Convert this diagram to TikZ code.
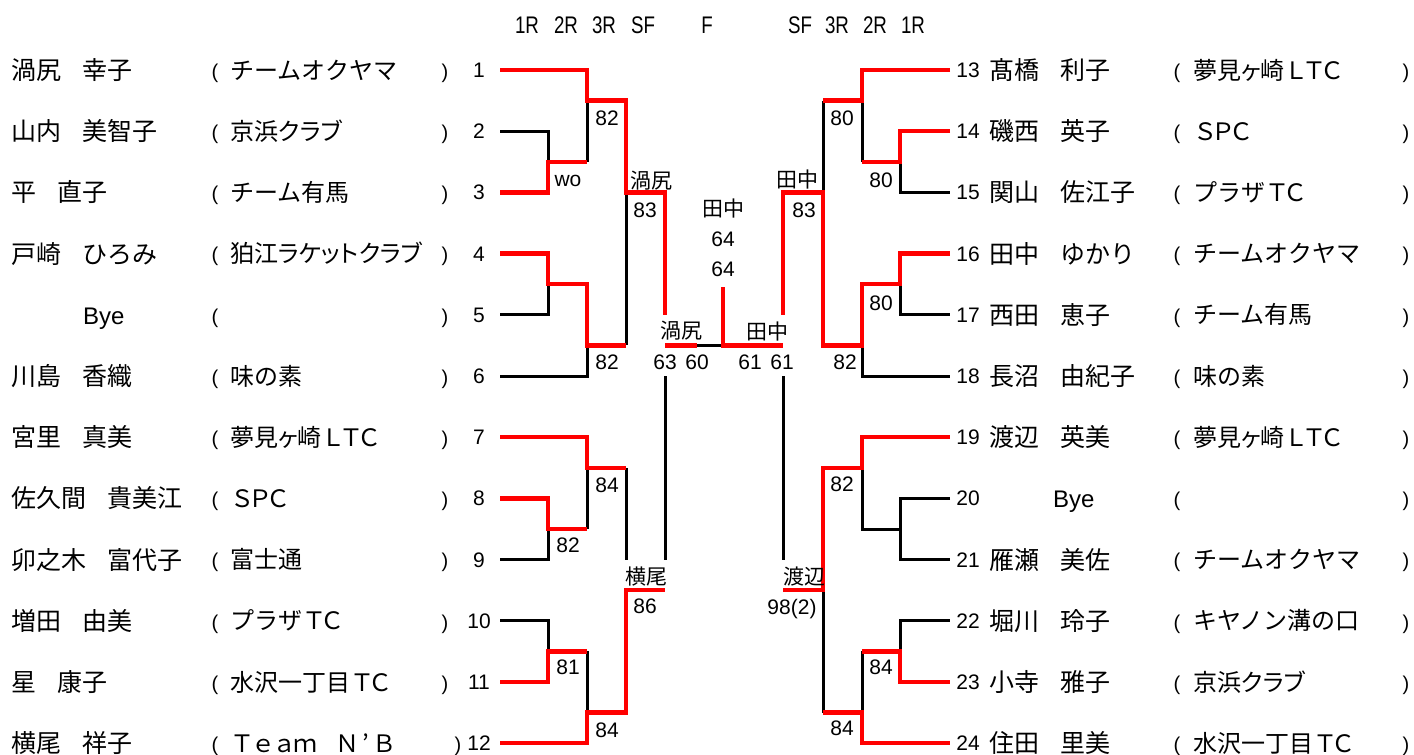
\documentclass[tikz,border=0pt]{standalone}
\usepackage{fontspec}
\usepackage{graphicx}
\setmainfont{Liberation Sans}
\newfontfamily\jp{Noto Sans CJK JP}
\newfontfamily\jpp[RawFeature=+palt]{Noto Sans CJK JP}
\newfontfamily\jpl[LetterSpace=-25]{Noto Sans CJK JP}
\newfontfamily\jpm[LetterSpace=-12]{Noto Sans CJK JP}
\newcommand\sn[2]{#1\hspace{21pt}#2}
\newcommand\lrow[5]{%
  \node[nm] (ln#1) at (11,#2) {#3};
  \node[par] (lo#1) at (215,#2+3) {(};
  \node[tm] (lt#1) at (230,#2) {#4};
  \node[par] (lc#1) at (#5,#2+3) {)};
  \node[num] (lnum#1) at (479,#2) {#1};
}
\newcommand\rrow[4]{%
  \node[num] (rnum#1) at (968,#2) {#1};
  \node[nm] (rn#1) at (989,#2) {#3};
  \node[par] (ro#1) at (1177,#2+3) {(};
  \node[tm] (rt#1) at (1193,#2) {#4};
  \node[par] (rc#1) at (1406,#2+3) {)};
}
\tikzset{
  win/.style={draw=red,line width=4.5pt,line join=miter},
  lose/.style={draw=black,line width=3pt,line join=miter},
  nm/.style={anchor=west,inner sep=0pt,font=\jp\fontsize{25}{25}\selectfont,text height=20.8pt,text depth=1.8pt},
  tm/.style={anchor=west,inner sep=0pt,font=\jp\fontsize{24}{24}\selectfont,text height=20pt,text depth=1.7pt},
  par/.style={inner sep=0pt,font=\fontsize{20}{20}\selectfont,text height=14.6pt,text depth=4.2pt},
  num/.style={inner sep=0pt,font=\fontsize{21}{21}\selectfont,text height=15pt,text depth=0pt},
  sc/.style={inner sep=0pt,font=\fontsize{21}{21}\selectfont,text height=15pt,text depth=0pt},
  lb/.style={inner sep=0pt,font=\jp\fontsize{21}{21}\selectfont,text height=17.4pt,text depth=1.5pt},
  hd/.style={inner sep=0pt,font=\fontsize{24}{24}\selectfont,text height=17.2pt,text depth=0pt},
}
\begin{document}
\begin{tikzpicture}[x=1pt,y=-1pt]
\useasboundingbox (0,0) rectangle (1414,755);
\fill[white] (0,0) rectangle (1414,755);

% header
\node[hd] (h1) at (527,25) {\scalebox{0.78}[1]{1R}};
\node[hd] (h2) at (566,25) {\scalebox{0.78}[1]{2R}};
\node[hd] (h3) at (604,25) {\scalebox{0.78}[1]{3R}};
\node[hd] (h4) at (643,25) {\scalebox{0.78}[1]{SF}};
\node[hd] (h5) at (707,25) {\scalebox{0.78}[1]{F}};
\node[hd] (h6) at (800,25) {\scalebox{0.78}[1]{SF}};
\node[hd] (h7) at (837,25) {\scalebox{0.78}[1]{3R}};
\node[hd] (h8) at (875,25) {\scalebox{0.78}[1]{2R}};
\node[hd] (h9) at (913,25) {\scalebox{0.78}[1]{1R}};

% players left
\lrow{1}{70}{\sn{渦尻}{幸子}}{チームオクヤマ}{445}
\lrow{2}{131.2}{\sn{山内}{美智子}}{京浜{\jpp クラブ}}{445}
\lrow{3}{192.4}{\sn{平}{直子}}{チーム有馬}{445}
\lrow{4}{253.6}{\sn{戸崎}{ひろみ}}{狛江{\jpp ラケットクラブ}}{445}
\lrow{5}{314.8}{\hspace{72pt}{\rmfamily\fontsize{24}{24}\selectfont Bye}}{}{445}
\lrow{6}{376}{\sn{川島}{香織}}{味の素}{445}
\lrow{7}{437.2}{\sn{宮里}{真美}}{夢見{\jpp ヶ}崎{\jpl ＬＴＣ}}{445}
\lrow{8}{498.4}{\sn{佐久間}{貴美江}}{{\jpl ＳＰＣ}}{445}
\lrow{9}{559.6}{\sn{卯之木}{富代子}}{富士通}{445}
\lrow{10}{620.8}{\sn{増田}{由美}}{プラザ{\jpl ＴＣ}}{445}
\lrow{11}{682}{\sn{星}{康子}}{水沢一丁目{\jpl ＴＣ}}{445}
\lrow{12}{743.2}{\sn{横尾}{祥子}}{{\jpm Ｔｅａｍ　Ｎ\hspace{3pt}’\hspace{3pt}Ｂ}}{458}

% players right
\rrow{13}{70}{\sn{髙橋}{利子}}{夢見{\jpp ヶ}崎{\jpl ＬＴＣ}}
\rrow{14}{131.2}{\sn{磯西}{英子}}{{\jpl ＳＰＣ}}
\rrow{15}{192.4}{\sn{関山}{佐江子}}{プラザ{\jpl ＴＣ}}
\rrow{16}{253.6}{\sn{田中}{ゆかり}}{チームオクヤマ}
\rrow{17}{314.8}{\sn{西田}{恵子}}{チーム有馬}
\rrow{18}{376}{\sn{長沼}{由紀子}}{味の素}
\rrow{19}{437.2}{\sn{渡辺}{英美}}{夢見{\jpp ヶ}崎{\jpl ＬＴＣ}}
\rrow{20}{498.4}{\hspace{64pt}{\rmfamily\fontsize{24}{24}\selectfont Bye}}{}
\rrow{21}{559.6}{\sn{雁瀬}{美佐}}{チームオクヤマ}
\rrow{22}{620.8}{\sn{堀川}{玲子}}{キヤノン溝の口}
\rrow{23}{682}{\sn{小寺}{雅子}}{京浜{\jpp クラブ}}
\rrow{24}{743.2}{\sn{住田}{里美}}{水沢一丁目{\jpl ＴＣ}}

% losing (black) lines, left
\draw[lose] (500,131.2) -- (548,131.2) -- (548,161.8);
\draw[lose] (587,161.8) -- (587,100.6);
\draw[lose] (500,314.8) -- (548,314.8) -- (548,284.2);
\draw[lose] (500,376) -- (587,376) -- (587,345.4);
\draw[lose] (626,345.4) -- (626,192.4);
\draw[lose] (697,345.4) -- (723,345.4);
\draw[lose] (665,376) -- (665,559.6);
\draw[lose] (626,467.8) -- (626,559.6);
\draw[lose] (587,529) -- (587,467.8);
\draw[lose] (500,559.6) -- (548,559.6) -- (548,529);
\draw[lose] (500,620.8) -- (548,620.8) -- (548,651.4);
\draw[lose] (587,651.4) -- (587,712.6);
% losing lines, right
\draw[lose] (823,192.4) -- (823,100.6);
\draw[lose] (862,100.6) -- (862,161.8);
\draw[lose] (900,161.8) -- (900,192.4) -- (950,192.4);
\draw[lose] (900,284.2) -- (900,314.8) -- (950,314.8);
\draw[lose] (862,345.4) -- (862,376) -- (950,376);
\draw[lose] (783,376) -- (783,559.6);
\draw[lose] (862,467.8) -- (862,529) -- (900,529);
\draw[lose] (950,498.4) -- (900,498.4) -- (900,559.6) -- (950,559.6);
\draw[lose] (823,590.2) -- (823,712.6);
\draw[lose] (862,712.6) -- (862,651.4);
\draw[lose] (900,651.4) -- (900,620.8) -- (950,620.8);

% winning (red) lines, left
\draw[win] (500,70) -- (587,70) -- (587,100.6) -- (626,100.6) -- (626,192.4) -- (665,192.4) -- (665,314.8);
\draw[win] (500,192.4) -- (548,192.4) -- (548,161.8) -- (587,161.8);
\draw[win] (500,253.6) -- (548,253.6) -- (548,284.2) -- (587,284.2) -- (587,345.4) -- (626,345.4);
\draw[win] (665,345.4) -- (697,345.4);
\draw[win] (500,437.2) -- (587,437.2) -- (587,467.8) -- (626,467.8);
\draw[win] (500,498.4) -- (548,498.4) -- (548,529) -- (587,529);
\draw[win] (500,682) -- (548,682) -- (548,651.4) -- (587,651.4);
\draw[win] (500,743.2) -- (587,743.2) -- (587,712.6) -- (626,712.6) -- (626,590.2) -- (665,590.2);
% final
\draw[win] (723,287) -- (723,345.4) -- (783,345.4);
% winning lines, right
\draw[win] (783,314.8) -- (783,192.4) -- (823,192.4) -- (823,345.4) -- (862,345.4) -- (862,284.2) -- (900,284.2) -- (900,253.6) -- (950,253.6);
\draw[win] (950,70) -- (862,70) -- (862,100.6) -- (823,100.6);
\draw[win] (950,131.2) -- (900,131.2) -- (900,161.8) -- (862,161.8);
\draw[win] (783,590.2) -- (823,590.2) -- (823,467.8) -- (862,467.8) -- (862,437.2) -- (950,437.2);
\draw[win] (823,712.6) -- (862,712.6) -- (862,743.2) -- (950,743.2);
\draw[win] (862,651.4) -- (900,651.4) -- (900,682) -- (950,682);

% scores and winners, left
\node[sc] (wo) at (568,179) {wo};
\node[sc] (sa) at (607,118) {82};
\node[sc] (sb) at (607,362) {82};
\node[lb] (wa) at (651,181) {渦尻};
\node[sc] (sc1) at (645,210) {83};
\node[lb] (wb) at (681,331) {渦尻};
\node[sc] (sd1) at (665,362) {63};
\node[sc] (sd2) at (697,362) {60};
\node[sc] (se) at (607,485) {84};
\node[sc] (sf) at (568,545) {82};
\node[sc] (sg) at (568,667) {81};
\node[sc] (sh) at (607,730) {84};
\node[lb] (wc) at (646,577) {横尾};
\node[sc] (si) at (645,606) {86};
% final
\node[lb] (wf) at (723,209) {田中};
\node[sc] (sf1) at (723,239) {64};
\node[sc] (sf2) at (723,269) {64};
% right
\node[lb] (wd) at (767,332) {田中};
\node[sc] (sj1) at (750,362) {61};
\node[sc] (sj2) at (782,362) {61};
\node[lb] (we) at (797,180) {田中};
\node[sc] (sk) at (804,210) {83};
\node[sc] (sl) at (842,118) {80};
\node[sc] (sm) at (881,180) {80};
\node[sc] (sn) at (881,303) {80};
\node[sc] (so) at (845,362) {82};
\node[sc] (sp) at (842,484) {82};
\node[lb] (wg) at (804,577) {渡辺};
\node[sc] (sq) at (792,607) {98(2)};
\node[sc] (sr) at (881,667) {84};
\node[sc] (ss) at (842,728) {84};
\end{tikzpicture}
\end{document}
